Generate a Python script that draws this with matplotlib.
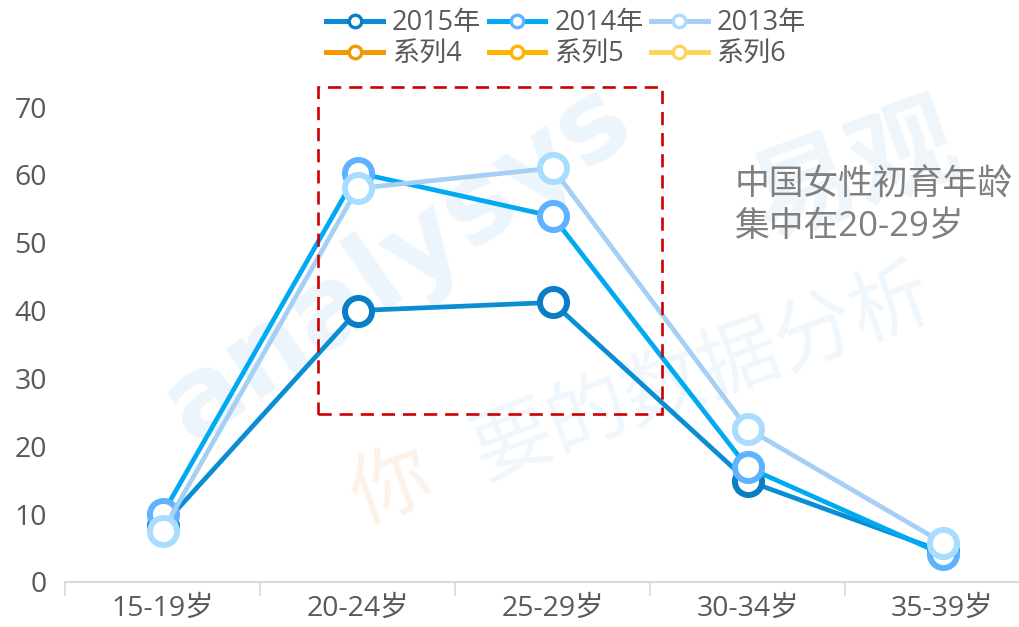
import matplotlib
matplotlib.use("Agg")
import matplotlib.pyplot as plt
from matplotlib.lines import Line2D
from matplotlib.patches import Rectangle

plt.rcParams['font.family'] = ['Open Sans', 'Noto Sans CJK SC', 'DejaVu Sans']

categories = ["15-19岁", "20-24岁", "25-29岁", "30-34岁", "35-39岁"]
y2015 = [8.3, 40.0, 41.2, 14.9, 4.5]
y2014 = [10.0, 60.3, 53.9, 16.9, 4.1]
y2013 = [7.5, 58.0, 61.0, 22.6, 5.8]
yticks = [0, 10, 20, 30, 40, 50, 60, 70]
legend_labels = ["2015年", "2014年", "2013年", "系列4", "系列5", "系列6"]
annotation = "中国女性初育年龄\n集中在20-29岁"

legend_colors = [("#0a8dd2", "#0a7ec4"), ("#00aaf2", "#5eb2ff"), ("#a6cff5", "#a8ddff"),
                 ("#f39800", "#f39800"), ("#ffb400", "#ffb400"), ("#ffd45a", "#ffd45a")]

fig = plt.figure(figsize=(10.19, 6.27), dpi=100)
ax = fig.add_axes([65/1019, 1-582/627, 975/1019, (582-107)/627])

# faint watermark (behind the data)
ax.text(0.39, 0.58, "analysys", transform=fig.transFigure, fontsize=80, color="#edf5fc",
        rotation=35, ha="center", va="center", family="DejaVu Sans", fontweight="bold", zorder=0)
ax.text(0.84, 0.72, "易观", transform=fig.transFigure, fontsize=76, color="#eef6fc",
        rotation=20, ha="center", va="center", zorder=0, fontweight="bold")
ax.text(0.385, 0.22, "你", transform=fig.transFigure, fontsize=58, color="#fdf2e9",
        rotation=20, ha="center", va="center", zorder=0)
ax.text(0.69, 0.40, "要的数据分析", transform=fig.transFigure, fontsize=58, color="#f0f7fc",
        rotation=20, ha="center", va="center", zorder=0)

x = list(range(len(categories)))
order = [(y2015, "#0a8dd2", "#0a7ec4", 3), (y2014, "#00aaf2", "#5eb2ff", 4), (y2013, "#a6cff5", "#a8ddff", 5)]
for ys, lc, mc, z in order:
    ax.plot(x, ys, color=lc, lw=3.4, marker="o", markersize=19.5, markerfacecolor="white",
            markeredgecolor=mc, markeredgewidth=4.3, zorder=z, clip_on=False)

ax.set_xlim(-0.5, 4.5)
ax.set_ylim(0, 70)
ax.set_yticks(yticks)
ax.set_xticks(x)
ax.set_xticklabels(categories)
ax.set_xticks([i - 0.5 for i in range(len(categories) + 1)], minor=True)
ax.tick_params(axis="x", which="major", length=0, pad=9, labelsize=20.5, labelcolor="#595959")
ax.tick_params(axis="x", which="minor", length=10, width=1.2, color="#d9d9d9", direction="out")
ax.tick_params(axis="y", length=0, pad=13, labelsize=20.5, labelcolor="#595959")
for s in ["top", "right", "left"]:
    ax.spines[s].set_visible(False)
ax.spines["bottom"].set_color("#d9d9d9")
ax.spines["bottom"].set_linewidth(1.5)
ax.patch.set_alpha(0)

# red dashed highlight box
rect = Rectangle((0.795, 24.8), 2.564 - 0.795, 72.97 - 24.8, fill=False,
                 edgecolor="#cc0000", lw=1.9, linestyle=(0, (5, 3)), clip_on=False, zorder=6)
ax.add_patch(rect)

fig.text(735/1019, 1-206/627, annotation, fontsize=25, color="#7f7f7f",
         ha="left", va="center", linespacing=1.3)

handles = []
for lc, mc in legend_colors:
    handles.append(Line2D([], [], color=lc, lw=3.6, marker="o", markersize=9,
                          markerfacecolor="white", markeredgecolor=mc, markeredgewidth=2.4))
# matplotlib fills legend column-wise: reorder so rows read 2015/2014/2013, 系列4/5/6
idx = [0, 3, 1, 4, 2, 5]
leg = fig.legend([handles[i] for i in idx], [legend_labels[i] for i in idx], ncol=3,
                 loc="center", bbox_to_anchor=(566/1019, 1-39/627),
                 frameon=False, fontsize=19.5, handlelength=2.1, handletextpad=0.32,
                 columnspacing=0.28, labelspacing=0.12, borderpad=0)
for t in leg.get_texts():
    t.set_color("#595959")

fig.savefig("out.png", dpi=100)
